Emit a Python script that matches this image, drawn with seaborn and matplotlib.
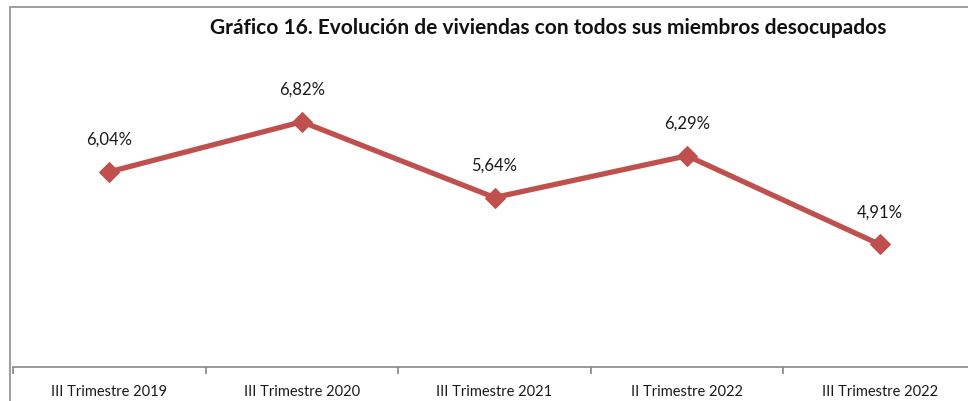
import matplotlib
matplotlib.use("Agg")
import matplotlib.pyplot as plt
import seaborn as sns
import pandas as pd
from matplotlib.patches import Rectangle

categories = ["III Trimestre 2019", "III Trimestre 2020", "III Trimestre 2021",
              "II Trimestre 2022", "III Trimestre 2022"]
values = [6.04, 6.82, 5.64, 6.29, 4.91]
labels = ["6,04%", "6,82%", "5,64%", "6,29%", "4,91%"]
title = "Gráfico 16. Evolución de viviendas con todos sus miembros desocupados"

sns.set_theme(style="white")
plt.rcParams['font.family'] = ['Lato', 'DejaVu Sans']

W, H = 968, 401
fig = plt.figure(figsize=(W / 100, H / 100), dpi=100)

# outer chart border (extends beyond the crop on right/bottom)
fig.patches.append(Rectangle((10 / W, -0.1), 1.2, 1 - 7 / H + 0.1,
                             transform=fig.transFigure, fill=False,
                             edgecolor="#8c8c8c", linewidth=1.2))

ax = fig.add_axes([13 / W, 34 / H, 963 / W, 321 / H])
df = pd.DataFrame({"cat": categories, "x": range(len(categories)), "v": values})
sns.lineplot(data=df, x="x", y="v", ax=ax, color="#C0504D", linewidth=3.8,
             marker="D", markersize=10, markeredgecolor="#C0504D")

for xi, v, lab in zip(df["x"], values, labels):
    ax.annotate(lab, (xi, v), xytext=(0, 23), textcoords="offset points",
                ha="center", va="center", fontsize=12, color="#1a1a1a")

ax.set_xlim(-0.5, len(categories) - 0.5)
ax.set_ylim(3, 8)
ax.set_xticks(range(len(categories)))
ax.set_xticklabels(categories, fontsize=10.5, color="#1a1a1a")
ax.set_xticks([i - 0.5 for i in range(len(categories) + 1)], minor=True)
ax.tick_params(axis="x", which="major", length=0, pad=13)
ax.tick_params(axis="x", which="minor", length=5, color="#868686", width=1.2, bottom=True)
ax.set_yticks([])
ax.set_xlabel("")
ax.set_ylabel("")
for s in ["top", "right", "left"]:
    ax.spines[s].set_visible(False)
ax.spines["bottom"].set_color("#868686")
ax.spines["bottom"].set_linewidth(1.2)
ax.patch.set_alpha(0)

fig.text(548 / W, 1 - 28 / H, title, ha="center", va="center",
         fontsize=15, fontweight="bold", color="#111111")

fig.savefig("out.png", dpi=100)
